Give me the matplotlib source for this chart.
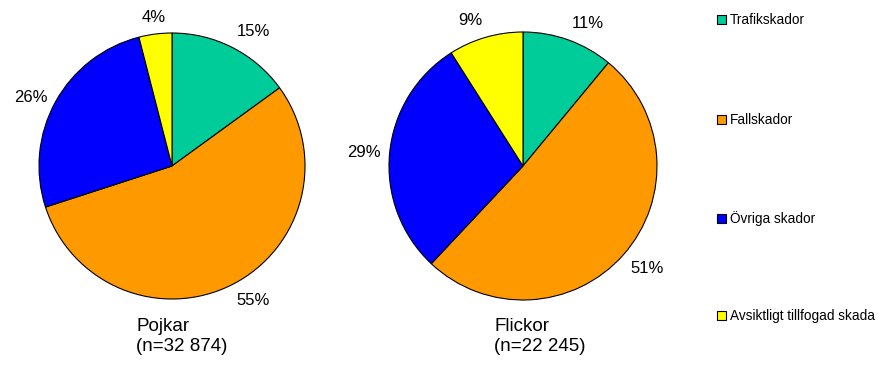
import matplotlib.pyplot as plt
import numpy as np
from matplotlib.patches import Rectangle

plt.rcParams["font.family"] = ["Liberation Sans", "DejaVu Sans"]

categories = ["Trafikskador", "Fallskador", "Övriga skador", "Avsiktligt tillfogad skada"]
pojkar = [15, 55, 26, 4]
flickor = [11, 51, 29, 9]
titles = ["Pojkar\n(n=32 874)", "Flickor\n(n=22 245)"]
colors = ["#00CC99", "#FF9900", "#0000FF", "#FFFF00"]

W, H = 893, 366
fig = plt.figure(figsize=(W / 100, H / 100), dpi=100)


def draw_pie(cx, cy, r, values, title, tx):
    ax = fig.add_axes([(cx - r) / W, (H - cy - r) / H, 2 * r / W, 2 * r / H])
    wedges, _ = ax.pie(values, colors=colors, startangle=90, counterclock=False,
                       wedgeprops=dict(edgecolor="black", linewidth=0.8))
    # Excel-style labels: box corner placed just outside the wedge midpoint
    for w, v in zip(wedges, values):
        ang = np.deg2rad((w.theta1 + w.theta2) / 2)
        c, s = np.cos(ang), np.sin(ang)
        ha = "left" if c > 0.2 else ("right" if c < -0.2 else "center")
        va = "bottom" if s > 0.5 else ("top" if s < -0.5 else "center")
        ax.text(1.07 * c, 1.07 * s, f"{v}%", ha=ha, va=va, fontsize=12,
                clip_on=False)
    ax.set_xlim(-1, 1)
    ax.set_ylim(-1, 1)
    ax.set_aspect("equal")
    fig.text(tx / W, 1 - 318 / H, title, ha="left", va="top", fontsize=13.5,
             linespacing=1.25)


draw_pie(172, 166, 133, pojkar, titles[0], 136)
draw_pie(523, 166, 134, flickor, titles[1], 494)

legend_y = [20, 120, 219, 316]
for name, col, y in zip(categories, colors, legend_y):
    fig.patches.append(Rectangle((717 / W, 1 - (y + 4) / H), 9 / W, 9 / H,
                                 transform=fig.transFigure, facecolor=col,
                                 edgecolor="black", linewidth=0.8))
    fig.text(730 / W, 1 - y / H, name, ha="left", va="center", fontsize=9.8)

fig.savefig("out.png", dpi=100)
